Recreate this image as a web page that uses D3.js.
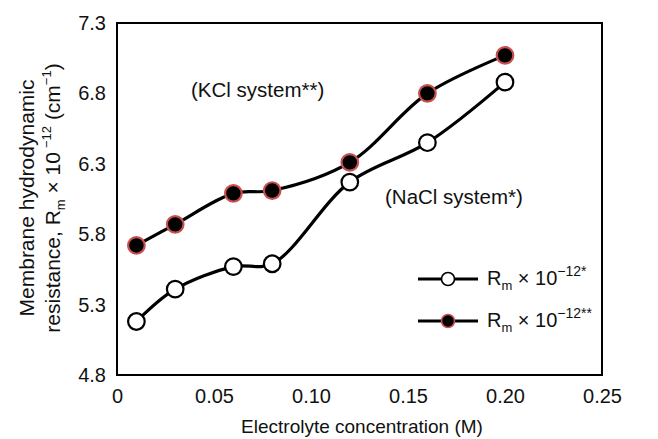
<!DOCTYPE html>
<html>
<head>
<meta charset="utf-8">
<script src="https://d3js.org/d3.v7.min.js"></script>
<style>
body { margin: 0; background: #fff; }
text { font-family: "Liberation Sans", Arial, sans-serif; fill: #111; }
</style>
</head>
<body>
<svg id="chart" width="658" height="439"></svg>
<script>
// data
var conc = [0.01, 0.03, 0.06, 0.08, 0.12, 0.16, 0.20];
var nacl = [5.18, 5.41, 5.57, 5.59, 6.17, 6.45, 6.88];   // R_m x 10^-12 *
var kcl  = [5.72, 5.87, 6.09, 6.11, 6.31, 6.80, 7.07];   // R_m x 10^-12 **
var x_ticks = [0, 0.05, 0.10, 0.15, 0.20, 0.25];
var x_tick_labels = ["0", "0.05", "0.10", "0.15", "0.20", "0.25"];
var y_ticks = [4.8, 5.3, 5.8, 6.3, 6.8, 7.3];

var svg = d3.select("#chart");
var m_left = 117, m_right = 602, m_top = 23, m_bottom = 375;

var x = d3.scaleLinear().domain([0, 0.25]).range([m_left, m_right]),
    y = d3.scaleLinear().domain([4.8, 7.3]).range([m_bottom, m_top]);

// frame
svg.append("rect")
  .attr("x", m_left).attr("y", m_top)
  .attr("width", m_right - m_left).attr("height", m_bottom - m_top)
  .style("fill", "none").style("stroke", "#000").style("stroke-width", 2);

// tick labels (no tick marks in the original)
var xAxis = svg.append("g").attr("transform", "translate(0," + m_bottom + ")")
  .call(d3.axisBottom(x).tickValues(x_ticks).tickSize(0).tickPadding(14)
        .tickFormat((d, i) => x_tick_labels[i]));
xAxis.select(".domain").remove();
xAxis.selectAll("text").style("font-size", "20px").style("font-family", "Liberation Sans, Arial, sans-serif").attr("fill", "#111");

var yAxis = svg.append("g").attr("transform", "translate(" + m_left + ",0)")
  .call(d3.axisLeft(y).tickValues(y_ticks).tickSize(0).tickPadding(11)
        .tickFormat(d3.format(".1f")));
yAxis.select(".domain").remove();
yAxis.selectAll("text").style("font-size", "20px").style("font-family", "Liberation Sans, Arial, sans-serif").attr("fill", "#111");

// axis titles
svg.append("text")
  .attr("x", 362).attr("y", 433)
  .attr("text-anchor", "middle").style("font-size", "19px")
  .text("Electrolyte concentration (M)");

var ytitle = svg.append("g").attr("transform", "translate(0,198) rotate(-90)");
ytitle.append("text").attr("x", 0).attr("y", 34)
  .attr("text-anchor", "middle").style("font-size", "21px")
  .text("Membrane hydrodynamic");
var t2 = ytitle.append("text").attr("x", 0).attr("y", 60)
  .attr("text-anchor", "middle").style("font-size", "21px");
t2.append("tspan").text("resistance, R");
t2.append("tspan").attr("dy", 5).style("font-size", "13px").text("m");
t2.append("tspan").attr("dy", -5).text(" \u00d7 10");
t2.append("tspan").attr("dy", -9).attr("dx", 4).style("font-size", "13px").text("\u221212");
t2.append("tspan").attr("dy", 9).text(" (cm");
t2.append("tspan").attr("dy", -9).style("font-size", "13px").text("\u22121");
t2.append("tspan").attr("dy", 9).text(")");

// lines
var line = d3.line().x(d => x(d[0])).y(d => y(d[1])).curve(d3.curveCatmullRom.alpha(0.5));
var series = [
  {name: "nacl", values: nacl, fill: "#fff", stroke: "#000"},
  {name: "kcl", values: kcl, fill: "#000", stroke: "#c9504f"}
];
series.forEach(function(s) {
  var pts = conc.map((c, i) => [c, s.values[i]]);
  svg.append("path").datum(pts)
    .attr("d", line)
    .style("fill", "none").style("stroke", "#000").style("stroke-width", 3.2);
  svg.selectAll(".pt_" + s.name).data(pts).enter()
    .append("circle")
    .attr("class", "pt_" + s.name)
    .attr("cx", d => x(d[0])).attr("cy", d => y(d[1]))
    .attr("r", 8.3)
    .style("fill", s.fill).style("stroke", s.stroke).style("stroke-width", 2.2);
});

// annotations
svg.append("text").attr("x", 191).attr("y", 97).style("font-size", "20.5px").text("(KCl system**)");
svg.append("text").attr("x", 385).attr("y", 204).style("font-size", "20.5px").text("(NaCl system*)");

// legend
var legendRows = [
  {y: 279, fill: "#fff", stroke: "#000", stars: "*"},
  {y: 321, fill: "#000", stroke: "#c9504f", stars: "**"}
];
legendRows.forEach(function(r) {
  svg.append("line").attr("x1", 418).attr("x2", 478).attr("y1", r.y).attr("y2", r.y)
    .style("stroke", "#000").style("stroke-width", 3.2);
  svg.append("circle").attr("cx", 448).attr("cy", r.y).attr("r", 6.5)
    .style("fill", r.fill).style("stroke", r.stroke).style("stroke-width", 1.6);
  var t = svg.append("text").attr("x", 487).attr("y", r.y + 6).style("font-size", "20px");
  t.append("tspan").text("R");
  t.append("tspan").attr("dy", 5).style("font-size", "13px").text("m");
  t.append("tspan").attr("dy", -5).text(" \u00d7 10");
  t.append("tspan").attr("dy", -9).style("font-size", "14px").text("\u221212" + r.stars);
});
</script>
</body>
</html>
